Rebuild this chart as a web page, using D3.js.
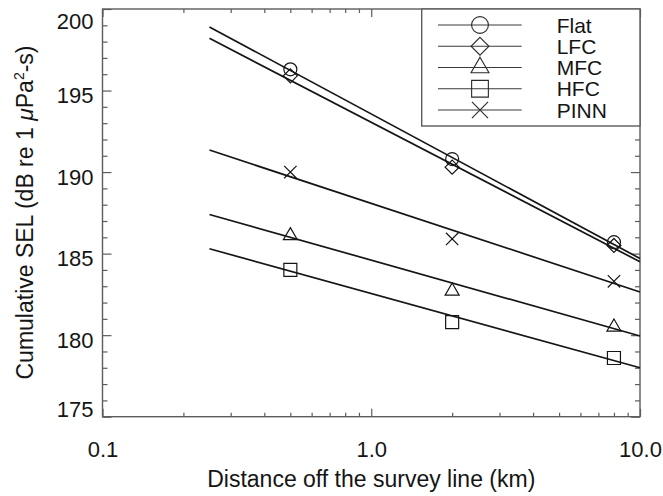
<!DOCTYPE html>
<html>
<head>
<meta charset="utf-8">
<script src="https://cdn.jsdelivr.net/npm/d3@7"></script>
<style>
  body { margin: 0; background: #fff; }
  svg text { font-family: 'Liberation Sans', Arial, Helvetica, sans-serif; fill: #151515; }
</style>
</head>
<body>
<svg id="chart" width="663" height="496"></svg>
<script>
// distances (km) where the models were evaluated
const distances = [0.5, 2, 8]
const seriesNames = ['Flat', 'LFC', 'MFC', 'HFC', 'PINN']

// cumulative SEL (dB re 1 uPa^2-s) at each distance
const flatSEL = [196.3, 190.8, 185.7]
const lfcSEL = [195.9, 190.3, 185.5]
const mfcSEL = [186.1, 182.7, 180.5]
const hfcSEL = [184.0, 180.8, 178.6]
const pinnSEL = [190.0, 185.9, 183.3]

// fitted lines, value at start and end of the fit range
const fitRange = [0.25, 10]
const fitStart = [198.9, 198.2, 187.4, 185.3, 191.35]
const fitEnd = [184.7, 184.5, 179.95, 178.0, 182.65]

// axis ticks
const xMajor = [0.1, 1, 10]
const xMinor = [0.2, 0.3, 0.4, 0.5, 0.6, 0.7, 0.8, 0.9, 2, 3, 4, 5, 6, 7, 8, 9]
const yMajor = [175, 180, 185, 190, 195, 200]
const yMinor = d3.range(175, 201).filter(v => v % 5 !== 0)

const seriesSEL = [flatSEL, lfcSEL, mfcSEL, hfcSEL, pinnSEL]

const margin = { top: 9, right: 23, bottom: 79.3, left: 102.5 }
const W = 663
const H = 496
const svg = d3.select('#chart')

const x = d3.scaleLog().domain([0.1, 10]).range([margin.left, W - margin.right])
const y = d3.scaleLinear().domain([175, 200]).range([H - margin.bottom, margin.top])

const frameColor = '#5c5c5c'
const inkColor = '#151515'

// symbols: [type, size in plot, size in legend]
const symbolDefs = [
  [d3.symbolCircle, 133, 222],
  [d3.symbolDiamond2, 125, 205],
  [d3.symbolTriangle2, 140, 230],
  [d3.symbolSquare, 169, 280],
  [d3.symbolTimes, 102, 170]
]

function styleAxis (g) {
  g.select('.domain').remove()
  g.selectAll('.tick line').attr('stroke', frameColor).attr('stroke-width', 1.2)
}

// bottom axis
svg.append('g')
  .attr('transform', `translate(0,${y.range()[0]})`)
  .call(d3.axisBottom(x).tickValues(xMinor).tickSize(-4).tickFormat(''))
  .call(styleAxis)
const xb = svg.append('g')
  .attr('transform', `translate(0,${y.range()[0]})`)
  .call(d3.axisBottom(x).tickValues(xMajor).tickSize(-8).tickPadding(25).tickFormat(d3.format('.1f')))
  .call(styleAxis)
xb.selectAll('text').attr('font-size', 22).attr('fill', inkColor)

// top axis
svg.append('g')
  .attr('transform', `translate(0,${margin.top})`)
  .call(d3.axisTop(x).tickValues(xMinor).tickSize(-4).tickFormat(''))
  .call(styleAxis)
svg.append('g')
  .attr('transform', `translate(0,${margin.top})`)
  .call(d3.axisTop(x).tickValues(xMajor).tickSize(-8).tickFormat(''))
  .call(styleAxis)

// left axis
svg.append('g')
  .attr('transform', `translate(${margin.left},0)`)
  .call(d3.axisLeft(y).tickValues(yMinor).tickSize(-5).tickFormat(''))
  .call(styleAxis)
const yl = svg.append('g')
  .attr('transform', `translate(${margin.left},0)`)
  .call(d3.axisLeft(y).tickValues(yMajor).tickSize(-9).tickPadding(9))
  .call(styleAxis)
yl.selectAll('text')
  .attr('font-size', 22)
  .attr('fill', inkColor)
  .attr('dy', d => d === 200 ? 19 : (d === 175 ? 0 : 12))

// right axis
svg.append('g')
  .attr('transform', `translate(${W - margin.right},0)`)
  .call(d3.axisRight(y).tickValues(yMinor).tickSize(-5).tickFormat(''))
  .call(styleAxis)
svg.append('g')
  .attr('transform', `translate(${W - margin.right},0)`)
  .call(d3.axisRight(y).tickValues(yMajor).tickSize(-9).tickFormat(''))
  .call(styleAxis)

// frame
svg.append('rect')
  .attr('x', x.range()[0])
  .attr('y', y.range()[1])
  .attr('width', x.range()[1] - x.range()[0])
  .attr('height', y.range()[0] - y.range()[1])
  .attr('fill', 'none')
  .attr('stroke', frameColor)
  .attr('stroke-width', 1.4)

// fit lines
const plot = svg.append('g')
seriesNames.forEach((name, i) => {
  plot.append('line')
    .attr('x1', x(fitRange[0]))
    .attr('y1', y(fitStart[i]))
    .attr('x2', x(fitRange[1]))
    .attr('y2', y(fitEnd[i]))
    .attr('stroke', inkColor)
    .attr('stroke-width', 1.7)
})

// symbols
seriesNames.forEach((name, i) => {
  const sym = d3.symbol().type(symbolDefs[i][0]).size(symbolDefs[i][1])
  plot.selectAll('.pt-' + i)
    .data(seriesSEL[i])
    .join('path')
    .attr('class', 'pt-' + i)
    .attr('transform', (d, j) => `translate(${x(distances[j])},${y(d)})`)
    .attr('d', sym)
    .attr('fill', 'none')
    .attr('stroke', inkColor)
    .attr('stroke-width', 1.2)
})

// legend
const legendX0 = 421.7
const legendY1 = 126
const rowY = d3.scalePoint().domain(seriesNames).range([25, 110])
const legend = svg.append('g')
legend.append('rect')
  .attr('x', legendX0)
  .attr('y', margin.top)
  .attr('width', x.range()[1] - legendX0)
  .attr('height', legendY1 - margin.top)
  .attr('fill', '#fff')
  .attr('stroke', frameColor)
  .attr('stroke-width', 1.4)

seriesNames.forEach((name, i) => {
  const row = legend.append('g').attr('transform', `translate(0,${rowY(name)})`)
  row.append('line')
    .attr('x1', 438).attr('x2', 521.7)
    .attr('stroke', '#3a3a3a')
    .attr('stroke-width', 1.1)
  row.append('path')
    .attr('transform', 'translate(480,0)')
    .attr('d', d3.symbol().type(symbolDefs[i][0]).size(symbolDefs[i][2]))
    .attr('fill', 'none')
    .attr('stroke', '#2a2a2a')
    .attr('stroke-width', 1.1)
  row.append('text')
    .attr('x', 556.7)
    .attr('y', 7.5)
    .attr('font-size', 21)
    .attr('textLength', null)
    .text(name)
})

// axis titles
svg.append('text')
  .attr('x', (x.range()[0] + x.range()[1]) / 2)
  .attr('y', 487)
  .attr('text-anchor', 'middle')
  .attr('font-size', 23)
  .text('Distance off the survey line (km)')

const yTitle = svg.append('text')
  .attr('transform', 'translate(33,212.5) rotate(-90)')
  .attr('text-anchor', 'middle')
  .attr('font-size', 23)
yTitle.append('tspan').text('Cumulative SEL (dB re 1 ')
yTitle.append('tspan').attr('font-style', 'italic').text('μ')
yTitle.append('tspan').text('Pa')
yTitle.append('tspan').attr('font-size', 14).attr('dy', -9).text('2')
yTitle.append('tspan').attr('dy', 9).text('-s)')
</script>
</body>
</html>
